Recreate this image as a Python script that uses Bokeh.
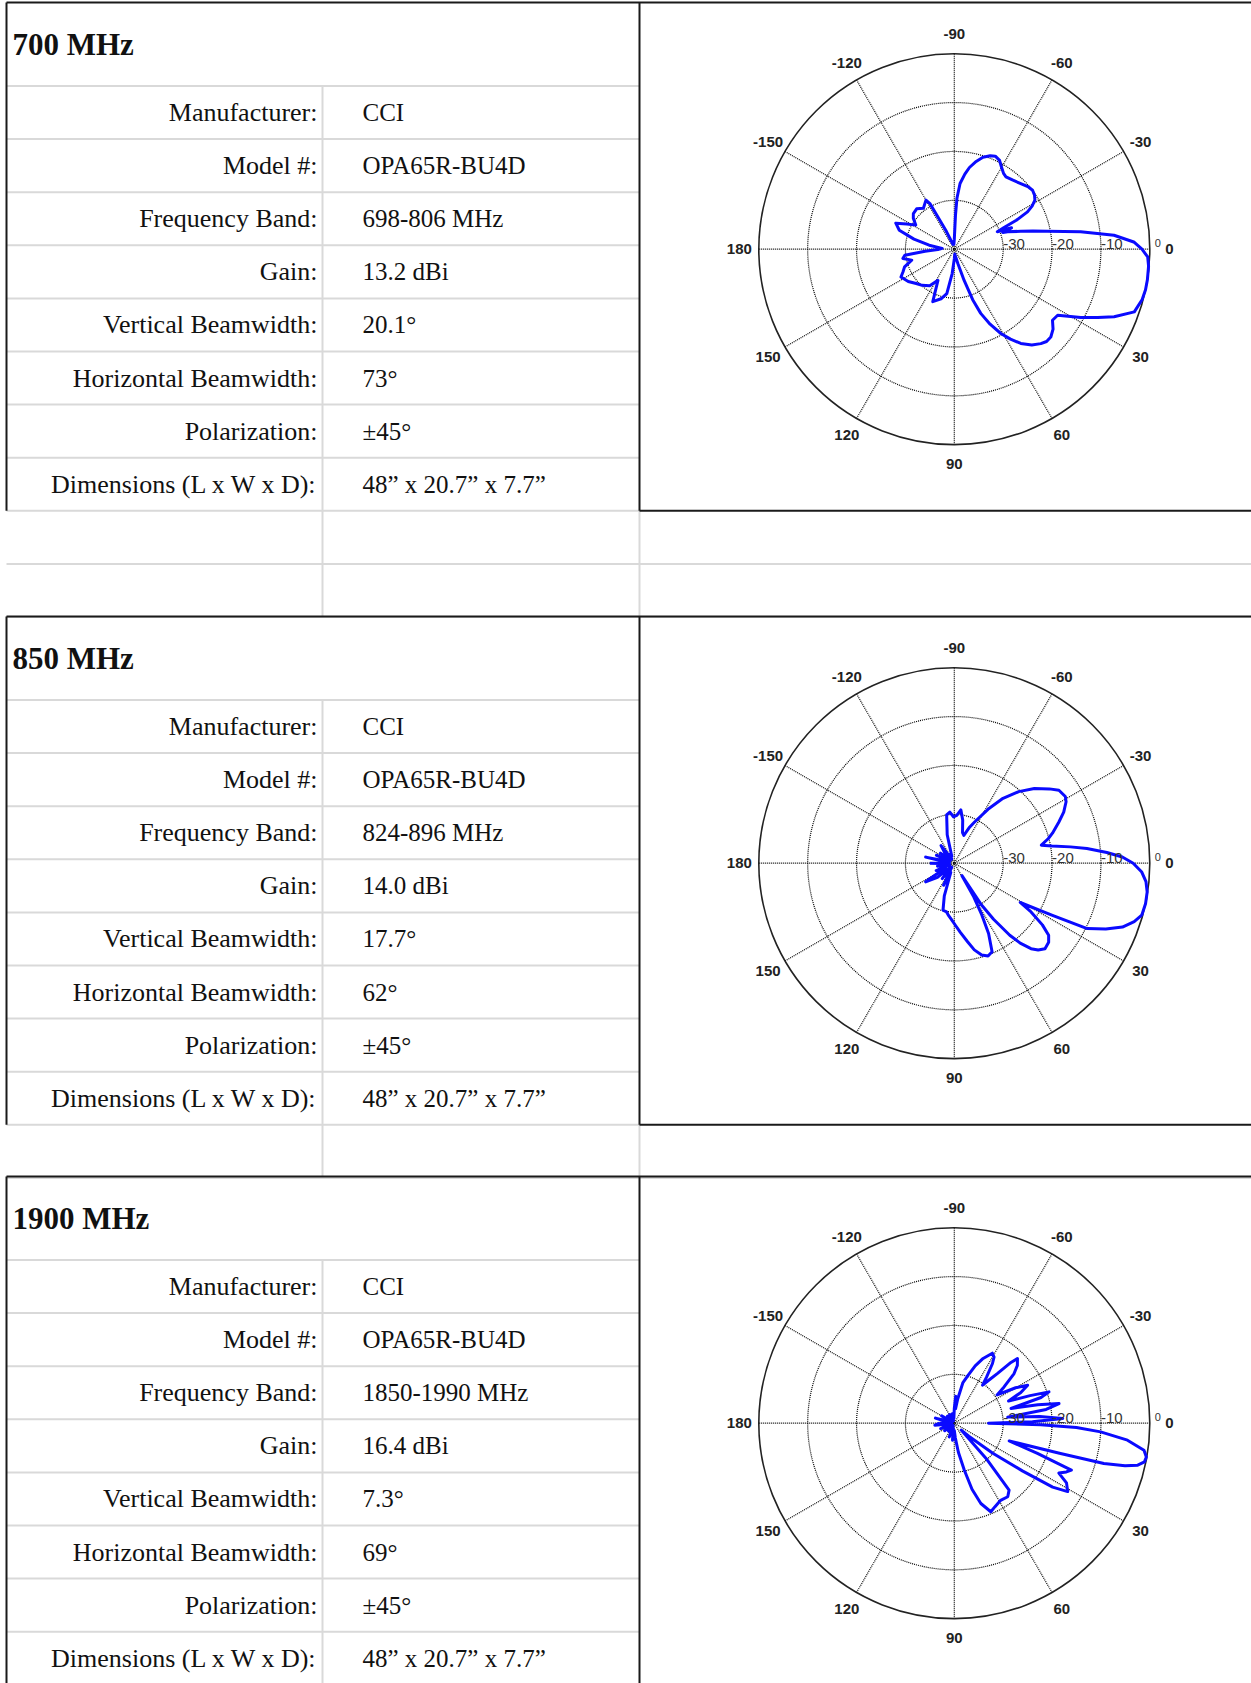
import numpy as np
from bokeh.plotting import figure
from bokeh.models import Range1d
from bokeh.core.properties import value
from bokeh.embed import file_html
from bokeh.resources import INLINE

# ---------------- data ----------------
TITLES = ["700 MHz", "850 MHz", "1900 MHz"]
ROW_LABELS = ["Manufacturer:", "Model #:", "Frequency Band:", "Gain:",
              "Vertical Beamwidth:", "Horizontal Beamwidth:", "Polarization:",
              "Dimensions (L x W x D):"]
VALUES_700 = ["CCI", "OPA65R-BU4D", "698-806 MHz", "13.2 dBi", "20.1°", "73°", "±45°",
              "48” x 20.7” x 7.7”"]
VALUES_850 = ["CCI", "OPA65R-BU4D", "824-896 MHz", "14.0 dBi", "17.7°", "62°", "±45°",
              "48” x 20.7” x 7.7”"]
VALUES_1900 = ["CCI", "OPA65R-BU4D", "1850-1990 MHz", "16.4 dBi", "7.3°", "69°", "±45°",
               "48” x 20.7” x 7.7”"]

ANGLE_TICKS = [0, -30, -60, -90, -120, -150, 180, 150, 120, 90, 60, 30]
RADIAL_TICKS = [-30, -20, -10]
DB_MIN = -40.0

P700_ANG = [-180, -176, -171, -166, -161, -156, -152, -148, -143, -139, -133, -127, -120, -118,
            -114, -105, -95, -90, -88, -87, -85, -82, -79.5, -76, -72.7, -69, -66.2, -63, -60.5,
            -57, -54.5, -50, -44.6, -40, -37, -34, -31.3, -29, -27, -25, -23.5, -22, -20.5, -19,
            -18, -15.1, -13, -10.9, -7.9, -5, -2.3, 0, 2.3, 5, 9, 12, 15, 19.2, 22.9, 25.5, 28.4,
            30.5, 32.6, 35.9, 39, 42.3, 45, 47.5, 51, 54.8, 58, 61.1, 64.5, 67.6, 70, 72.5, 76,
            80, 85, 90, 95, 99.6, 105, 112.3, 117.7, 124, 131.7, 138, 145, 152.5, 156, 160.4,
            165.6, 169.8, 173, 176, 180]
P700_DB = [-37, -37.5, -34.8, -31.5, -28.1, -26.9, -29, -30.7, -29.5, -28.9, -28.7, -29.5, -28.4,
           -29.5, -36, -39, -39, -38, -33, -29.5, -26.5, -24.5, -23, -21.5, -20.3, -19.5, -19.2,
           -19.6, -20.5, -21.5, -21.8, -21.5, -20.9, -20.2, -19.95, -20.2, -20.7, -21.8, -23.2,
           -26, -29, -30.5, -27.5, -29.5, -28.5, -25.9, -23.5, -20.6, -13.9, -7.2, -3.25, -1.6,
           -0.4, -0.1, 0, 0, -0.2, -1.0, -4.5, -7.5, -10.6, -13, -14.9, -15.2, -14, -13.3, -13.3,
           -13.8, -14.8, -16.4, -18.3, -20.3, -23, -25.8, -29, -33.3, -37, -38.5, -39, -38, -35,
           -30.8, -29.5, -28.4, -32.8, -31, -30.1, -29.5, -28.5, -27.7, -28.5, -29.2, -31, -29.3,
           -29.8, -34, -37]

P850_ANG = [-180, -174, -168, -162, -156, -150, -144, -138, -132, -127, -122, -116, -110, -104,
            -99, -95, -91, -87, -83, -79, -75, -71, -67, -63.8, -58, -53.1, -48, -43, -38, -34.9,
            -31, -28.8, -25, -21.5, -17, -14.7, -11.7, -10, -8, -6.3, -4, -2.1, 0, 2.7, 5.5, 8.5,
            12, 15.5, 18, 20.8, 23.5, 26.2, 28, 30.8, 32.4, 35, 37.4, 40, 43.3, 46, 48.1, 50.5,
            52.4, 55, 57, 58.5, 60, 62, 64, 66.9, 70, 73.4, 77, 80.4, 85, 89, 93, 96.6, 99, 103.5,
            107, 111, 116, 122, 128, 134, 140, 147, 152, 158, 164, 170, 175, 180]
P850_DB = [-35, -39, -34, -39, -36, -39, -36.5, -39, -37, -35.5, -39, -38, -38.5, -34, -30, -29.5,
           -30.5, -30.2, -29, -31, -33.5, -34, -32, -30.6, -27, -23.4, -20.3, -17.6, -15.3, -13.9,
           -13.5, -13.9, -15.3, -17, -19, -20.1, -21.8, -19.7, -16, -12.7, -8.7, -5.6, -3.4, -1.6,
           -0.6, -0.1, 0, -0.2, -1.3, -3.2, -6.2, -9.7, -17.4, -24.3, -21.4, -18, -15.7, -14.8,
           -14.5, -15.3, -16.5, -18.8, -21.4, -26, -30, -37, -32, -28, -24, -20.3, -19.8, -20.4,
           -21.8, -23.7, -25.8, -27.3, -28.5, -29.3, -29.9, -30.1, -33, -38, -35, -39, -36, -39,
           -35.5, -33, -38, -36, -39, -36.5, -39, -35]

P1900_ANG = [-180, -172, -165, -158, -150, -142, -134, -126, -118, -110, -102, -95, -90, -87, -85,
             -82, -78, -74, -70, -66, -61.5, -59, -57.4, -55, -53.4, -51, -49, -47, -45.7, -42.5,
             -39.7, -36.1, -33.5, -30, -27.4, -24.8, -22.2, -20, -18.3, -16.5, -14.6, -12.5,
             -10.6, -8.5, -6.5, -4.5, -2.5, -1, 0, 1, 2, 3.4, 5.6, 8.1, 10, 11.5, 12.9, 14, 15.1,
             15.9, 17.9, 20, 21.8, 23.5, 25.5, 28, 31.1, 33, 35, 38, 42, 45, 48, 50.7, 54, 59, 64,
             67.6, 71.7, 75, 78, 82, 86, 90, 96, 102, 110, 118, 126, 134, 142, 150, 158, 166, 174,
             180]
P1900_DB = [-37, -39, -36, -39, -37, -39.5, -38, -39.5, -38, -39.5, -38, -39, -37, -34.5, -37, -35,
            -31.5, -29.8, -27.5, -25.5, -23.7, -24.2, -25.5, -28.5, -30.3, -28.5, -26.5, -23,
            -21.5, -22.5, -24.1, -27.4, -29.5, -25.5, -23.1, -25, -28, -23.5, -19.6, -21.5, -28,
            -22.5, -18.2, -21, -29, -22.5, -17.8, -24, -33, -22.3, -15, -10, -4.4, -0.8, -0.1,
            -0.3, -1.5, -4, -8.3, -17.4, -28.2, -21.9, -14.2, -15, -16.3, -14, -12.9, -16, -23,
            -30, -36, -38, -30, -22.3, -21.4, -21.6, -21, -20.4, -22.7, -26, -30.2, -34, -37,
            -38.5, -36.5, -39, -37, -39.5, -38, -39.5, -37.5, -39.5, -37, -39.5, -36, -37]

BLOCKS = [
    (TITLES[0], VALUES_700, P700_ANG, P700_DB),
    (TITLES[1], VALUES_850, P850_ANG, P850_DB),
    (TITLES[2], VALUES_1900, P1900_ANG, P1900_DB),
]

# ---------------- layout (page pixels) ----------------
W, H = 1251, 1683
BLOCK_TOPS = [2, 616, 1176]
TITLE_H = 83.5
ROW_H = 53.1
TABLE_L = 6
DIV_X = 322
BOX_X = 639
RIGHT = 1251
CX = 953.8
CY_OFF = 246.7
R = 195.5

BLACK = "#1a1a1a"
GREY = "#d9d9d9"
SERIF = value("Liberation Serif")
SANS = value("Liberation Sans")

p = figure(width=W, height=H, x_range=Range1d(0, W), y_range=Range1d(H, 0),
           output_backend="svg", toolbar_location=None, min_border=0,
           x_axis_location=None, y_axis_location=None)
p.grid.visible = False
p.outline_line_color = None
p.background_fill_color = "white"

gx0, gy0, gx1, gy1 = [], [], [], []
bx0, by0, bx1, by1 = [], [], [], []


def gseg(a, b, c, d):
    gx0.append(a); gy0.append(b); gx1.append(c); gy1.append(d)


def bseg(a, b, c, d):
    bx0.append(a); by0.append(b); bx1.append(c); by1.append(d)


n_rows = len(ROW_LABELS)
block_h = TITLE_H + n_rows * ROW_H
empty_rows = [2, 1, 0]

for bi, (title, vals, angs, dbs) in enumerate(BLOCKS):
    top = BLOCK_TOPS[bi]
    bottom = top + block_h
    # grey table grid
    for i in range(n_rows + 1):
        yy = top + TITLE_H + i * ROW_H
        gseg(TABLE_L, yy, BOX_X, yy)
    gseg(DIV_X, top + TITLE_H, DIV_X, bottom)
    # empty rows after block
    for k in range(empty_rows[bi]):
        y0 = bottom + k * ROW_H
        y1 = y0 + ROW_H
        gseg(TABLE_L, y1, RIGHT, y1)
        gseg(DIV_X, y0, DIV_X, y1)
        gseg(BOX_X, y0, BOX_X, y1)
    # black borders
    bseg(TABLE_L, top, RIGHT, top)
    bseg(TABLE_L, top, TABLE_L, bottom)
    bseg(BOX_X, top, BOX_X, bottom)
    bseg(BOX_X, bottom, RIGHT, bottom)

    # texts
    p.text(x=[12], y=[top + 42], text=[title], text_font=SERIF, text_font_size=value("31px"),
           text_font_style="bold", text_align="left", text_baseline="middle",
           text_color="#111111")
    ys = [top + TITLE_H + i * ROW_H + ROW_H / 2 for i in range(n_rows)]
    p.text(x=[317] * n_rows, y=ys, text=ROW_LABELS, text_font=SERIF,
           text_font_size=value("26px"), text_align="right", text_baseline="middle",
           text_color="#111111")
    p.text(x=[362] * n_rows, y=ys, text=vals, text_font=SERIF,
           text_font_size=value("25px"), text_align="left", text_baseline="middle",
           text_color="#111111")

    # polar grid
    cy = top + CY_OFF
    ring_r = [R * (v - DB_MIN) / (-DB_MIN) for v in RADIAL_TICKS]
    p.circle(x=[CX] * len(ring_r), y=[cy] * len(ring_r), radius=ring_r, fill_color=None,
             line_color="#000000", line_width=1.2, line_dash="1 1")
    sp = np.deg2rad(np.arange(0, 180, 30))
    p.segment(x0=CX - R * np.cos(sp), y0=cy - R * np.sin(sp), x1=CX + R * np.cos(sp),
              y1=cy + R * np.sin(sp), line_color="#000000", line_width=1.2, line_dash="1 1")
    p.circle(x=[CX], y=[cy], radius=[R], fill_color=None, line_color="#222222",
             line_width=1.6)

    # pattern
    th = np.deg2rad(np.array(angs, dtype=float))
    rr = R * (np.array(dbs, dtype=float) - DB_MIN) / (-DB_MIN)
    p.line(x=CX + rr * np.cos(th), y=cy + rr * np.sin(th), line_color="#0a0aff",
           line_width=3, line_join="round")

    # angle labels
    ta = np.deg2rad(np.array(ANGLE_TICKS, dtype=float))
    lr = R + 19.5
    p.text(x=CX + lr * np.cos(ta), y=cy + lr * np.sin(ta), text=[str(a) for a in ANGLE_TICKS],
           text_font=SANS, text_font_size=value("15px"), text_font_style="bold",
           text_align="center", text_baseline="middle", text_color="#222222")
    # radial labels
    p.text(x=[CX + rv for rv in ring_r], y=[cy - 5] * len(ring_r),
           text=[str(v) for v in RADIAL_TICKS], text_font=SANS,
           text_font_size=value("15px"), text_align="left", text_baseline="middle",
           text_color="#333333")
    p.text(x=[CX + R + 5], y=[cy - 6], text=["0"], text_font=SANS,
           text_font_size=value("11px"), text_align="left", text_baseline="middle",
           text_color="#333333")

p.segment(x0=gx0, y0=gy0, x1=gx1, y1=gy1, line_color=GREY, line_width=2)
p.segment(x0=bx0, y0=by0, x1=bx1, y1=by1, line_color=BLACK, line_width=2)

open("out.html", "w").write(file_html(p, INLINE))
